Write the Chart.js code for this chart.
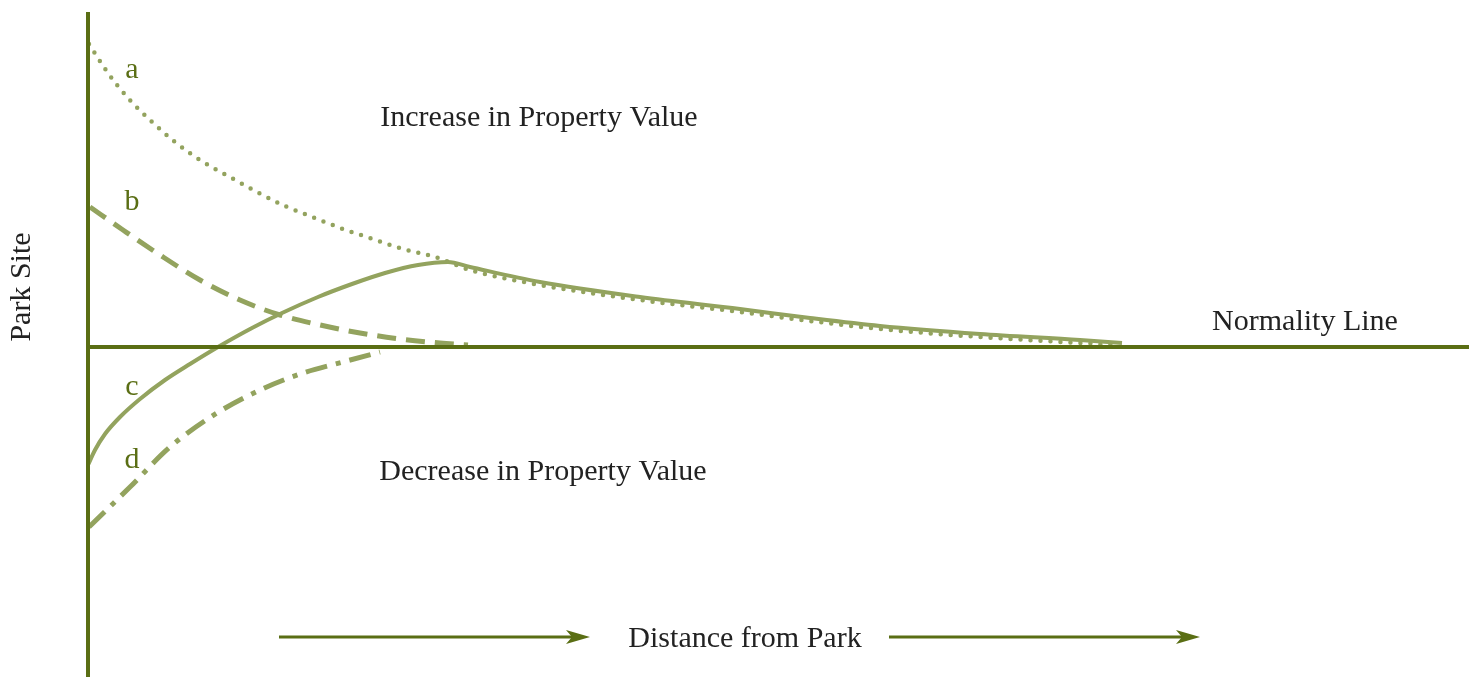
<!DOCTYPE html>
<html>
<head>
<meta charset="utf-8">
<title>Park Site - Distance from Park</title>
<script src="https://cdn.jsdelivr.net/npm/chart.js@4/dist/chart.umd.min.js"></script>
<style>
    body { margin: 0; background: #ffffff; }
    canvas { display: block; }
</style>
</head>
<body>
<canvas id="myChart" width="1469" height="677"></canvas>
<script>
// distance from the park edge and change in property value (0 = normality line)
let aDist  = [1, 20, 40, 62, 87, 112, 140, 169, 197, 227, 255, 285, 315, 347, 382, 452, 552, 652, 722, 792, 892, 992, 1027];
let aValue = [303, 274, 249, 227, 205, 187, 171, 155, 141, 129, 118, 108, 98, 90, 77, 62, 47, 35, 26, 18, 10, 4, 2];

let bDist  = [2, 35, 72, 112, 152, 192, 232, 272, 312, 352, 380];
let bValue = [140, 117, 92, 67, 47, 32, 22, 14, 8, 4, 2];

let cDist  = [0, 7, 17, 32, 52, 77, 102, 130, 164, 194, 230, 264, 297, 330, 360, 382, 452, 552, 652, 722, 792, 892, 992, 1034];
let cValue = [-118, -103, -87, -70, -52, -33, -17, 0, 19, 34, 50, 63, 74, 82, 85, 80, 65, 50, 38, 29, 21, 13, 7, 4];

let dDist  = [1, 42, 82, 129, 172, 215, 255, 292];
let dValue = [-180, -140, -100, -66, -43, -26, -15, -5];

let curveNames = ['a', 'b', 'c', 'd'];
let curveLabelDist = [44, 44, 44, 44];
let curveLabelValue = [277, 145, -40, -113];

let axisColor = '#5a6e14';
let curveColor = '#93a35e';

let toPoints = (xs, ys) => xs.map((x, i) => ({ x: x, y: ys[i] }));

// small arrow head used as point style at the end of the distance arrows
let arrowHead = document.createElement('canvas');
arrowHead.width = 24;
arrowHead.height = 14;
let ah = arrowHead.getContext('2d');
ah.fillStyle = axisColor;
ah.beginPath();
ah.moveTo(0, 0);
ah.lineTo(24, 7);
ah.lineTo(0, 14);
ah.lineTo(6, 7);
ah.closePath();
ah.fill();

let texts = [
    { text: 'Increase in Property Value', x: 451, y: 229, color: '#222222' },
    { text: 'Decrease in Property Value', x: 455, y: -125, color: '#222222' },
    { text: 'Normality Line', x: 1217, y: 25, color: '#222222' },
    { text: 'Distance from Park', x: 657, y: -292, color: '#222222' },
    { text: 'Park Site', x: -66, y: 60, color: '#222222', rotate: true },
];
curveNames.forEach((n, i) => {
    texts.push({ text: n, x: curveLabelDist[i], y: curveLabelValue[i], color: axisColor });
});

let textPlugin = {
    id: 'textPlugin',
    afterDatasetsDraw: function(chart) {
        let ctx = chart.ctx;
        let xs = chart.scales.x;
        let ys = chart.scales.y;
        ctx.save();
        ctx.font = '30px "Liberation Serif", "DejaVu Serif", serif';
        ctx.textAlign = 'center';
        ctx.textBaseline = 'middle';
        texts.forEach(t => {
            let px = xs.getPixelForValue(t.x);
            let py = ys.getPixelForValue(t.y);
            ctx.fillStyle = t.color;
            if (t.rotate) {
                ctx.save();
                ctx.translate(px, py);
                ctx.rotate(-Math.PI / 2);
                ctx.fillText(t.text, 0, 0);
                ctx.restore();
            } else {
                ctx.fillText(t.text, px, py);
            }
        });
        ctx.restore();
    }
};

let myData = {
    datasets: [
        {
            // park site axis
            data: toPoints([0, 0], [335, -330]),
            borderColor: axisColor,
            borderWidth: 4,
        },
        {
            // normality line
            data: toPoints([0, 1381], [0, 0]),
            borderColor: axisColor,
            borderWidth: 4,
        },
        {
            data: toPoints([191, 490], [-290, -290]),
            borderColor: axisColor,
            borderWidth: 3,
            pointStyle: [false, arrowHead],
            pointRadius: [0, 6],
        },
        {
            data: toPoints([801, 1100], [-290, -290]),
            borderColor: axisColor,
            borderWidth: 3,
            pointStyle: [false, arrowHead],
            pointRadius: [0, 6],
        },
        {
            data: toPoints(cDist, cValue),
            borderColor: curveColor,
            borderWidth: 4,
            cubicInterpolationMode: 'monotone',
        },
        {
            data: toPoints(aDist, aValue),
            borderColor: curveColor,
            borderWidth: 4.5,
            borderDash: [0, 10],
            borderCapStyle: 'round',
            cubicInterpolationMode: 'monotone',
        },
        {
            data: toPoints(bDist, bValue),
            borderColor: curveColor,
            borderWidth: 5,
            borderDash: [19, 10],
            cubicInterpolationMode: 'monotone',
        },
        {
            data: toPoints(dDist, dValue),
            borderColor: curveColor,
            borderWidth: 5,
            borderDash: [22, 9, 5, 9],
            cubicInterpolationMode: 'monotone',
        },
    ]
};

let myOption = {
    responsive: false,
    animation: false,
    layout: { padding: 0, autoPadding: false },
    plugins: {
        legend: { display: false },
        tooltip: { enabled: false },
    },
    elements: {
        point: { radius: 0 },
        line: { fill: false },
    },
    scales: {
        x: { type: 'linear', min: -88, max: 1381, display: false },
        y: { type: 'linear', min: -330, max: 347, display: false },
    },
};

let ctx = document.getElementById('myChart').getContext('2d');
let myChart = new Chart(ctx, {
    type: 'line',
    data: myData,
    options: myOption,
    plugins: [textPlugin]
});
</script>
</body>
</html>
